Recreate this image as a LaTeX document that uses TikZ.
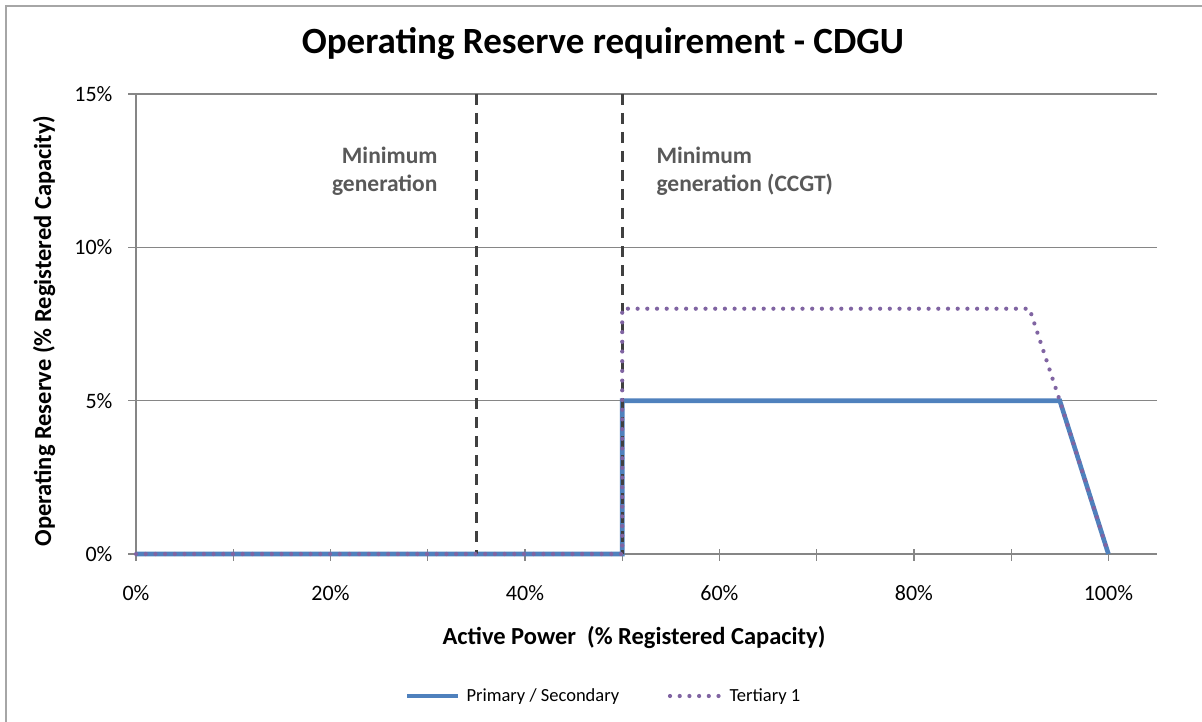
\documentclass[tikz,border=0pt]{standalone}
\usepackage{fontspec}
\setmainfont{Carlito}
\begin{document}
\begin{tikzpicture}[x=1pt,y=-1pt,
  gridline/.style={draw=gridgrey,line width=1.3pt},
  axisline/.style={draw=gridgrey,line width=1.3pt},
  prim/.style={draw=primblue,line width=4.6pt},
  tert/.style={draw=tertpurple,line width=4.2pt,line cap=round,dash pattern=on 0pt off 9.7pt},
  minline/.style={draw=mindark,line width=2.6pt,dash pattern=on 11pt off 8pt},
  ticklab/.style={font=\fontsize{22}{24}\selectfont,text=black},
  axtitle/.style={font=\fontsize{24.5}{26}\selectfont\bfseries,text=black},
  annot/.style={font=\fontsize{23.5}{28}\selectfont\bfseries,text=annotgrey},
  leglab/.style={font=\fontsize{18.5}{22}\selectfont,text=black,anchor=west}
]
\definecolor{primblue}{HTML}{4F81BD}
\definecolor{tertpurple}{HTML}{8064A2}
\definecolor{mindark}{HTML}{404040}
\definecolor{annotgrey}{HTML}{595959}
\definecolor{gridgrey}{HTML}{868686}
\useasboundingbox (0,0) rectangle (1202,722);
\fill[white] (0,0) rectangle (1202,722);
% chart border (right and bottom edges outside the picture)
\draw[gray!70,line width=1.6pt] (6,730) -- (6,6) -- (1210,6);
% gridlines
\foreach \yy/\lab in {94/15\%,247.3/10\%,400.7/5\%,554/0\%}{
  \draw[gridline] (128,\yy) -- (1157,\yy);
  \node[ticklab,anchor=east] at (116,\yy) {\lab};
}
% y axis
\draw[axisline] (136,94) -- (136,554);
% x ticks
\foreach \i in {0,...,10}{
  \draw[axisline] ({136+97.24*\i},549) -- ({136+97.24*\i},561);
}
\foreach \i/\lab in {0/0\%,2/20\%,4/40\%,6/60\%,8/80\%,10/100\%}{
  \node[ticklab] at ({136+97.24*\i},593) {\lab};
}
% series
\coordinate (p0) at (136,554);
\coordinate (p1) at (622.2,554);
\coordinate (p2) at (622.2,400.7);
\coordinate (p3) at (1059.8,400.7);
\coordinate (p4) at (1108.4,554);
\coordinate (t2) at (622.2,308.7);
\coordinate (t3) at (1029.5,308.7);
\draw[prim] (p0) -- (p1) -- (p2) -- (p3) -- (p4);
% minimum generation lines
\coordinate (m1a) at (476.3,94);
\coordinate (m1b) at (476.3,554);
\coordinate (m2a) at (622.2,94);
\coordinate (m2b) at (622.2,554);
\draw[minline] (m1a) -- (m1b);
\draw[minline] (m2a) -- (m2b);
\draw[tert] (p0) -- (p1) -- (t2) -- (t3) -- (p3) -- (p4);
% annotations
\node[annot,align=right,anchor=north east] (ann1) at (441,143) {Minimum\\generation};
\node[annot,align=left,anchor=north west] (ann2) at (653,143) {Minimum\\generation (CCGT)};
% titles
\node[font=\fontsize{37}{40}\selectfont\bfseries] (title) at (603,44) {Operating Reserve requirement - CDGU};
\node[axtitle,rotate=90] (ytitle) at (44,331) {Operating Reserve (\% Registered Capacity)};
\node[axtitle] (xtitle) at (634,637) {Active Power\ \ (\% Registered Capacity)};
% legend
\coordinate (l1a) at (407,696);
\coordinate (l1b) at (458,696);
\coordinate (l2a) at (670,696);
\coordinate (l2b) at (722,696);
\draw[prim] (l1a) -- (l1b);
\node[leglab] (lab1) at (463,697) {Primary / Secondary};
\draw[tert] (l2a) -- (l2b);
\node[leglab] (lab2) at (726,697) {Tertiary 1};
\end{tikzpicture}
\end{document}
